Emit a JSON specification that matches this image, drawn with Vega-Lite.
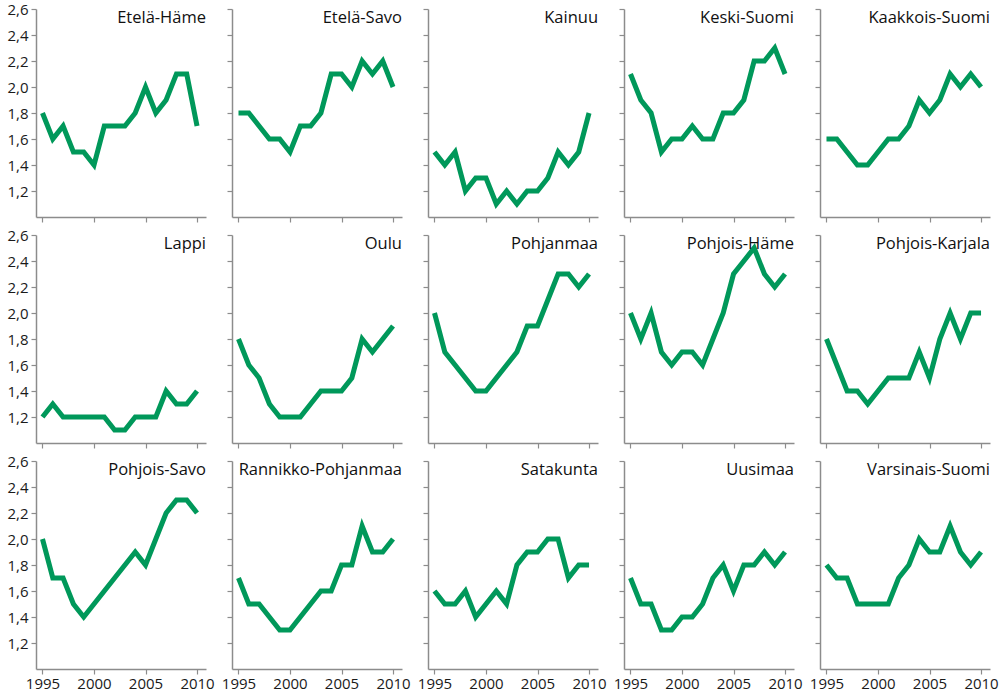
{
"$schema": "https://vega.github.io/schema/vega-lite/v6.json",
"padding": {"left": 6, "top": 2, "right": 0, "bottom": 0},
"background": "white",
"datasets": {"d": [
{"region":"Etelä-Häme","year":1995,"value":1.8},{"region":"Etelä-Häme","year":1996,"value":1.6},{"region":"Etelä-Häme","year":1997,"value":1.7},{"region":"Etelä-Häme","year":1998,"value":1.5},{"region":"Etelä-Häme","year":1999,"value":1.5},{"region":"Etelä-Häme","year":2000,"value":1.4},{"region":"Etelä-Häme","year":2001,"value":1.7},{"region":"Etelä-Häme","year":2002,"value":1.7},{"region":"Etelä-Häme","year":2003,"value":1.7},{"region":"Etelä-Häme","year":2004,"value":1.8},{"region":"Etelä-Häme","year":2005,"value":2.0},{"region":"Etelä-Häme","year":2006,"value":1.8},{"region":"Etelä-Häme","year":2007,"value":1.9},{"region":"Etelä-Häme","year":2008,"value":2.1},{"region":"Etelä-Häme","year":2009,"value":2.1},{"region":"Etelä-Häme","year":2010,"value":1.7},
{"region":"Etelä-Savo","year":1995,"value":1.8},{"region":"Etelä-Savo","year":1996,"value":1.8},{"region":"Etelä-Savo","year":1997,"value":1.7},{"region":"Etelä-Savo","year":1998,"value":1.6},{"region":"Etelä-Savo","year":1999,"value":1.6},{"region":"Etelä-Savo","year":2000,"value":1.5},{"region":"Etelä-Savo","year":2001,"value":1.7},{"region":"Etelä-Savo","year":2002,"value":1.7},{"region":"Etelä-Savo","year":2003,"value":1.8},{"region":"Etelä-Savo","year":2004,"value":2.1},{"region":"Etelä-Savo","year":2005,"value":2.1},{"region":"Etelä-Savo","year":2006,"value":2.0},{"region":"Etelä-Savo","year":2007,"value":2.2},{"region":"Etelä-Savo","year":2008,"value":2.1},{"region":"Etelä-Savo","year":2009,"value":2.2},{"region":"Etelä-Savo","year":2010,"value":2.0},
{"region":"Kainuu","year":1995,"value":1.5},{"region":"Kainuu","year":1996,"value":1.4},{"region":"Kainuu","year":1997,"value":1.5},{"region":"Kainuu","year":1998,"value":1.2},{"region":"Kainuu","year":1999,"value":1.3},{"region":"Kainuu","year":2000,"value":1.3},{"region":"Kainuu","year":2001,"value":1.1},{"region":"Kainuu","year":2002,"value":1.2},{"region":"Kainuu","year":2003,"value":1.1},{"region":"Kainuu","year":2004,"value":1.2},{"region":"Kainuu","year":2005,"value":1.2},{"region":"Kainuu","year":2006,"value":1.3},{"region":"Kainuu","year":2007,"value":1.5},{"region":"Kainuu","year":2008,"value":1.4},{"region":"Kainuu","year":2009,"value":1.5},{"region":"Kainuu","year":2010,"value":1.8},
{"region":"Keski-Suomi","year":1995,"value":2.1},{"region":"Keski-Suomi","year":1996,"value":1.9},{"region":"Keski-Suomi","year":1997,"value":1.8},{"region":"Keski-Suomi","year":1998,"value":1.5},{"region":"Keski-Suomi","year":1999,"value":1.6},{"region":"Keski-Suomi","year":2000,"value":1.6},{"region":"Keski-Suomi","year":2001,"value":1.7},{"region":"Keski-Suomi","year":2002,"value":1.6},{"region":"Keski-Suomi","year":2003,"value":1.6},{"region":"Keski-Suomi","year":2004,"value":1.8},{"region":"Keski-Suomi","year":2005,"value":1.8},{"region":"Keski-Suomi","year":2006,"value":1.9},{"region":"Keski-Suomi","year":2007,"value":2.2},{"region":"Keski-Suomi","year":2008,"value":2.2},{"region":"Keski-Suomi","year":2009,"value":2.3},{"region":"Keski-Suomi","year":2010,"value":2.1},
{"region":"Kaakkois-Suomi","year":1995,"value":1.6},{"region":"Kaakkois-Suomi","year":1996,"value":1.6},{"region":"Kaakkois-Suomi","year":1997,"value":1.5},{"region":"Kaakkois-Suomi","year":1998,"value":1.4},{"region":"Kaakkois-Suomi","year":1999,"value":1.4},{"region":"Kaakkois-Suomi","year":2000,"value":1.5},{"region":"Kaakkois-Suomi","year":2001,"value":1.6},{"region":"Kaakkois-Suomi","year":2002,"value":1.6},{"region":"Kaakkois-Suomi","year":2003,"value":1.7},{"region":"Kaakkois-Suomi","year":2004,"value":1.9},{"region":"Kaakkois-Suomi","year":2005,"value":1.8},{"region":"Kaakkois-Suomi","year":2006,"value":1.9},{"region":"Kaakkois-Suomi","year":2007,"value":2.1},{"region":"Kaakkois-Suomi","year":2008,"value":2.0},{"region":"Kaakkois-Suomi","year":2009,"value":2.1},{"region":"Kaakkois-Suomi","year":2010,"value":2.0},
{"region":"Lappi","year":1995,"value":1.2},{"region":"Lappi","year":1996,"value":1.3},{"region":"Lappi","year":1997,"value":1.2},{"region":"Lappi","year":1998,"value":1.2},{"region":"Lappi","year":1999,"value":1.2},{"region":"Lappi","year":2000,"value":1.2},{"region":"Lappi","year":2001,"value":1.2},{"region":"Lappi","year":2002,"value":1.1},{"region":"Lappi","year":2003,"value":1.1},{"region":"Lappi","year":2004,"value":1.2},{"region":"Lappi","year":2005,"value":1.2},{"region":"Lappi","year":2006,"value":1.2},{"region":"Lappi","year":2007,"value":1.4},{"region":"Lappi","year":2008,"value":1.3},{"region":"Lappi","year":2009,"value":1.3},{"region":"Lappi","year":2010,"value":1.4},
{"region":"Oulu","year":1995,"value":1.8},{"region":"Oulu","year":1996,"value":1.6},{"region":"Oulu","year":1997,"value":1.5},{"region":"Oulu","year":1998,"value":1.3},{"region":"Oulu","year":1999,"value":1.2},{"region":"Oulu","year":2000,"value":1.2},{"region":"Oulu","year":2001,"value":1.2},{"region":"Oulu","year":2002,"value":1.3},{"region":"Oulu","year":2003,"value":1.4},{"region":"Oulu","year":2004,"value":1.4},{"region":"Oulu","year":2005,"value":1.4},{"region":"Oulu","year":2006,"value":1.5},{"region":"Oulu","year":2007,"value":1.8},{"region":"Oulu","year":2008,"value":1.7},{"region":"Oulu","year":2009,"value":1.8},{"region":"Oulu","year":2010,"value":1.9},
{"region":"Pohjanmaa","year":1995,"value":2.0},{"region":"Pohjanmaa","year":1996,"value":1.7},{"region":"Pohjanmaa","year":1997,"value":1.6},{"region":"Pohjanmaa","year":1998,"value":1.5},{"region":"Pohjanmaa","year":1999,"value":1.4},{"region":"Pohjanmaa","year":2000,"value":1.4},{"region":"Pohjanmaa","year":2001,"value":1.5},{"region":"Pohjanmaa","year":2002,"value":1.6},{"region":"Pohjanmaa","year":2003,"value":1.7},{"region":"Pohjanmaa","year":2004,"value":1.9},{"region":"Pohjanmaa","year":2005,"value":1.9},{"region":"Pohjanmaa","year":2006,"value":2.1},{"region":"Pohjanmaa","year":2007,"value":2.3},{"region":"Pohjanmaa","year":2008,"value":2.3},{"region":"Pohjanmaa","year":2009,"value":2.2},{"region":"Pohjanmaa","year":2010,"value":2.3},
{"region":"Pohjois-Häme","year":1995,"value":2.0},{"region":"Pohjois-Häme","year":1996,"value":1.8},{"region":"Pohjois-Häme","year":1997,"value":2.0},{"region":"Pohjois-Häme","year":1998,"value":1.7},{"region":"Pohjois-Häme","year":1999,"value":1.6},{"region":"Pohjois-Häme","year":2000,"value":1.7},{"region":"Pohjois-Häme","year":2001,"value":1.7},{"region":"Pohjois-Häme","year":2002,"value":1.6},{"region":"Pohjois-Häme","year":2003,"value":1.8},{"region":"Pohjois-Häme","year":2004,"value":2.0},{"region":"Pohjois-Häme","year":2005,"value":2.3},{"region":"Pohjois-Häme","year":2006,"value":2.4},{"region":"Pohjois-Häme","year":2007,"value":2.5},{"region":"Pohjois-Häme","year":2008,"value":2.3},{"region":"Pohjois-Häme","year":2009,"value":2.2},{"region":"Pohjois-Häme","year":2010,"value":2.3},
{"region":"Pohjois-Karjala","year":1995,"value":1.8},{"region":"Pohjois-Karjala","year":1996,"value":1.6},{"region":"Pohjois-Karjala","year":1997,"value":1.4},{"region":"Pohjois-Karjala","year":1998,"value":1.4},{"region":"Pohjois-Karjala","year":1999,"value":1.3},{"region":"Pohjois-Karjala","year":2000,"value":1.4},{"region":"Pohjois-Karjala","year":2001,"value":1.5},{"region":"Pohjois-Karjala","year":2002,"value":1.5},{"region":"Pohjois-Karjala","year":2003,"value":1.5},{"region":"Pohjois-Karjala","year":2004,"value":1.7},{"region":"Pohjois-Karjala","year":2005,"value":1.5},{"region":"Pohjois-Karjala","year":2006,"value":1.8},{"region":"Pohjois-Karjala","year":2007,"value":2.0},{"region":"Pohjois-Karjala","year":2008,"value":1.8},{"region":"Pohjois-Karjala","year":2009,"value":2.0},{"region":"Pohjois-Karjala","year":2010,"value":2.0},
{"region":"Pohjois-Savo","year":1995,"value":2.0},{"region":"Pohjois-Savo","year":1996,"value":1.7},{"region":"Pohjois-Savo","year":1997,"value":1.7},{"region":"Pohjois-Savo","year":1998,"value":1.5},{"region":"Pohjois-Savo","year":1999,"value":1.4},{"region":"Pohjois-Savo","year":2000,"value":1.5},{"region":"Pohjois-Savo","year":2001,"value":1.6},{"region":"Pohjois-Savo","year":2002,"value":1.7},{"region":"Pohjois-Savo","year":2003,"value":1.8},{"region":"Pohjois-Savo","year":2004,"value":1.9},{"region":"Pohjois-Savo","year":2005,"value":1.8},{"region":"Pohjois-Savo","year":2006,"value":2.0},{"region":"Pohjois-Savo","year":2007,"value":2.2},{"region":"Pohjois-Savo","year":2008,"value":2.3},{"region":"Pohjois-Savo","year":2009,"value":2.3},{"region":"Pohjois-Savo","year":2010,"value":2.2},
{"region":"Rannikko-Pohjanmaa","year":1995,"value":1.7},{"region":"Rannikko-Pohjanmaa","year":1996,"value":1.5},{"region":"Rannikko-Pohjanmaa","year":1997,"value":1.5},{"region":"Rannikko-Pohjanmaa","year":1998,"value":1.4},{"region":"Rannikko-Pohjanmaa","year":1999,"value":1.3},{"region":"Rannikko-Pohjanmaa","year":2000,"value":1.3},{"region":"Rannikko-Pohjanmaa","year":2001,"value":1.4},{"region":"Rannikko-Pohjanmaa","year":2002,"value":1.5},{"region":"Rannikko-Pohjanmaa","year":2003,"value":1.6},{"region":"Rannikko-Pohjanmaa","year":2004,"value":1.6},{"region":"Rannikko-Pohjanmaa","year":2005,"value":1.8},{"region":"Rannikko-Pohjanmaa","year":2006,"value":1.8},{"region":"Rannikko-Pohjanmaa","year":2007,"value":2.1},{"region":"Rannikko-Pohjanmaa","year":2008,"value":1.9},{"region":"Rannikko-Pohjanmaa","year":2009,"value":1.9},{"region":"Rannikko-Pohjanmaa","year":2010,"value":2.0},
{"region":"Satakunta","year":1995,"value":1.6},{"region":"Satakunta","year":1996,"value":1.5},{"region":"Satakunta","year":1997,"value":1.5},{"region":"Satakunta","year":1998,"value":1.6},{"region":"Satakunta","year":1999,"value":1.4},{"region":"Satakunta","year":2000,"value":1.5},{"region":"Satakunta","year":2001,"value":1.6},{"region":"Satakunta","year":2002,"value":1.5},{"region":"Satakunta","year":2003,"value":1.8},{"region":"Satakunta","year":2004,"value":1.9},{"region":"Satakunta","year":2005,"value":1.9},{"region":"Satakunta","year":2006,"value":2.0},{"region":"Satakunta","year":2007,"value":2.0},{"region":"Satakunta","year":2008,"value":1.7},{"region":"Satakunta","year":2009,"value":1.8},{"region":"Satakunta","year":2010,"value":1.8},
{"region":"Uusimaa","year":1995,"value":1.7},{"region":"Uusimaa","year":1996,"value":1.5},{"region":"Uusimaa","year":1997,"value":1.5},{"region":"Uusimaa","year":1998,"value":1.3},{"region":"Uusimaa","year":1999,"value":1.3},{"region":"Uusimaa","year":2000,"value":1.4},{"region":"Uusimaa","year":2001,"value":1.4},{"region":"Uusimaa","year":2002,"value":1.5},{"region":"Uusimaa","year":2003,"value":1.7},{"region":"Uusimaa","year":2004,"value":1.8},{"region":"Uusimaa","year":2005,"value":1.6},{"region":"Uusimaa","year":2006,"value":1.8},{"region":"Uusimaa","year":2007,"value":1.8},{"region":"Uusimaa","year":2008,"value":1.9},{"region":"Uusimaa","year":2009,"value":1.8},{"region":"Uusimaa","year":2010,"value":1.9},
{"region":"Varsinais-Suomi","year":1995,"value":1.8},{"region":"Varsinais-Suomi","year":1996,"value":1.7},{"region":"Varsinais-Suomi","year":1997,"value":1.7},{"region":"Varsinais-Suomi","year":1998,"value":1.5},{"region":"Varsinais-Suomi","year":1999,"value":1.5},{"region":"Varsinais-Suomi","year":2000,"value":1.5},{"region":"Varsinais-Suomi","year":2001,"value":1.5},{"region":"Varsinais-Suomi","year":2002,"value":1.7},{"region":"Varsinais-Suomi","year":2003,"value":1.8},{"region":"Varsinais-Suomi","year":2004,"value":2.0},{"region":"Varsinais-Suomi","year":2005,"value":1.9},{"region":"Varsinais-Suomi","year":2006,"value":1.9},{"region":"Varsinais-Suomi","year":2007,"value":2.1},{"region":"Varsinais-Suomi","year":2008,"value":1.9},{"region":"Varsinais-Suomi","year":2009,"value":1.8},{"region":"Varsinais-Suomi","year":2010,"value":1.9}
]},
"data": {"name": "d"},
"config": {
  "view": {"stroke": null},
  "font": "Open Sans",
  "axis": {"grid": false, "domainColor": "#8c8c8c", "domainWidth": 1.5, "tickColor": "#8c8c8c", "tickWidth": 1.2, "tickSize": 5, "labelFont": "Open Sans", "labelFontSize": 15, "labelColor": "#1a1a1a", "labelFlush": false, "labelOverlap": false, "title": null, "tickCount": 20},
  "axisX": {"labelPadding": 2},
  "axisY": {"labelPadding": 3},
  "line": {"color": "#00985a", "strokeWidth": 5, "strokeCap": "butt", "strokeJoin": "miter"},
  "text": {"font": "Open Sans", "fontSize": 16.5, "color": "#111111"}
},
"columns": 5,
"spacing": {"row": 18, "column": 26},
"bounds": "flush",
"concat": [
  {"width":170,"height":208,"transform":[{"filter":{"field":"region","equal":"Etelä-Häme"}}],"layer":[
   {"mark":"line","encoding":{"x":{"field":"year","type":"quantitative","scale":{"domain":[1994.37,2010.87],"nice":false,"zero":false},"axis":{"values":[1995,2000,2005,2010],"tickCount":20,"format":"d","labels":false}},"y":{"field":"value","type":"quantitative","scale":{"domain":[1.0,2.6],"nice":false,"zero":false},"axis":{"values":[1.2,1.4,1.6,1.8,2.0,2.2,2.4,2.6],"tickCount":20,"labelExpr":"replace(format(datum.value,'.1f'),'.',',')"}}}},
   {"transform":[{"filter":"datum.year===2010"}],"mark":{"type":"text","align":"right","baseline":"top","dy":1},"encoding":{"x":{"datum":2010.87,"type":"quantitative"},"y":{"datum":2.6,"type":"quantitative"},"text":{"field":"region"}}}]},
  {"width":170,"height":208,"transform":[{"filter":{"field":"region","equal":"Etelä-Savo"}}],"layer":[
   {"mark":"line","encoding":{"x":{"field":"year","type":"quantitative","scale":{"domain":[1994.37,2010.87],"nice":false,"zero":false},"axis":{"values":[1995,2000,2005,2010],"tickCount":20,"format":"d","labels":false}},"y":{"field":"value","type":"quantitative","scale":{"domain":[1.0,2.6],"nice":false,"zero":false},"axis":{"values":[1.2,1.4,1.6,1.8,2.0,2.2,2.4,2.6],"tickCount":20,"labels":false}}}},
   {"transform":[{"filter":"datum.year===2010"}],"mark":{"type":"text","align":"right","baseline":"top","dy":1},"encoding":{"x":{"datum":2010.87,"type":"quantitative"},"y":{"datum":2.6,"type":"quantitative"},"text":{"field":"region"}}}]},
  {"width":170,"height":208,"transform":[{"filter":{"field":"region","equal":"Kainuu"}}],"layer":[
   {"mark":"line","encoding":{"x":{"field":"year","type":"quantitative","scale":{"domain":[1994.37,2010.87],"nice":false,"zero":false},"axis":{"values":[1995,2000,2005,2010],"tickCount":20,"format":"d","labels":false}},"y":{"field":"value","type":"quantitative","scale":{"domain":[1.0,2.6],"nice":false,"zero":false},"axis":{"values":[1.2,1.4,1.6,1.8,2.0,2.2,2.4,2.6],"tickCount":20,"labels":false}}}},
   {"transform":[{"filter":"datum.year===2010"}],"mark":{"type":"text","align":"right","baseline":"top","dy":1},"encoding":{"x":{"datum":2010.87,"type":"quantitative"},"y":{"datum":2.6,"type":"quantitative"},"text":{"field":"region"}}}]},
  {"width":170,"height":208,"transform":[{"filter":{"field":"region","equal":"Keski-Suomi"}}],"layer":[
   {"mark":"line","encoding":{"x":{"field":"year","type":"quantitative","scale":{"domain":[1994.37,2010.87],"nice":false,"zero":false},"axis":{"values":[1995,2000,2005,2010],"tickCount":20,"format":"d","labels":false}},"y":{"field":"value","type":"quantitative","scale":{"domain":[1.0,2.6],"nice":false,"zero":false},"axis":{"values":[1.2,1.4,1.6,1.8,2.0,2.2,2.4,2.6],"tickCount":20,"labels":false}}}},
   {"transform":[{"filter":"datum.year===2010"}],"mark":{"type":"text","align":"right","baseline":"top","dy":1},"encoding":{"x":{"datum":2010.87,"type":"quantitative"},"y":{"datum":2.6,"type":"quantitative"},"text":{"field":"region"}}}]},
  {"width":170,"height":208,"transform":[{"filter":{"field":"region","equal":"Kaakkois-Suomi"}}],"layer":[
   {"mark":"line","encoding":{"x":{"field":"year","type":"quantitative","scale":{"domain":[1994.37,2010.87],"nice":false,"zero":false},"axis":{"values":[1995,2000,2005,2010],"tickCount":20,"format":"d","labels":false}},"y":{"field":"value","type":"quantitative","scale":{"domain":[1.0,2.6],"nice":false,"zero":false},"axis":{"values":[1.2,1.4,1.6,1.8,2.0,2.2,2.4,2.6],"tickCount":20,"labels":false}}}},
   {"transform":[{"filter":"datum.year===2010"}],"mark":{"type":"text","align":"right","baseline":"top","dy":1},"encoding":{"x":{"datum":2010.87,"type":"quantitative"},"y":{"datum":2.6,"type":"quantitative"},"text":{"field":"region"}}}]},
  {"width":170,"height":208,"transform":[{"filter":{"field":"region","equal":"Lappi"}}],"layer":[
   {"mark":"line","encoding":{"x":{"field":"year","type":"quantitative","scale":{"domain":[1994.37,2010.87],"nice":false,"zero":false},"axis":{"values":[1995,2000,2005,2010],"tickCount":20,"format":"d","labels":false}},"y":{"field":"value","type":"quantitative","scale":{"domain":[1.0,2.6],"nice":false,"zero":false},"axis":{"values":[1.2,1.4,1.6,1.8,2.0,2.2,2.4,2.6],"tickCount":20,"labelExpr":"replace(format(datum.value,'.1f'),'.',',')"}}}},
   {"transform":[{"filter":"datum.year===2010"}],"mark":{"type":"text","align":"right","baseline":"top","dy":1},"encoding":{"x":{"datum":2010.87,"type":"quantitative"},"y":{"datum":2.6,"type":"quantitative"},"text":{"field":"region"}}}]},
  {"width":170,"height":208,"transform":[{"filter":{"field":"region","equal":"Oulu"}}],"layer":[
   {"mark":"line","encoding":{"x":{"field":"year","type":"quantitative","scale":{"domain":[1994.37,2010.87],"nice":false,"zero":false},"axis":{"values":[1995,2000,2005,2010],"tickCount":20,"format":"d","labels":false}},"y":{"field":"value","type":"quantitative","scale":{"domain":[1.0,2.6],"nice":false,"zero":false},"axis":{"values":[1.2,1.4,1.6,1.8,2.0,2.2,2.4,2.6],"tickCount":20,"labels":false}}}},
   {"transform":[{"filter":"datum.year===2010"}],"mark":{"type":"text","align":"right","baseline":"top","dy":1},"encoding":{"x":{"datum":2010.87,"type":"quantitative"},"y":{"datum":2.6,"type":"quantitative"},"text":{"field":"region"}}}]},
  {"width":170,"height":208,"transform":[{"filter":{"field":"region","equal":"Pohjanmaa"}}],"layer":[
   {"mark":"line","encoding":{"x":{"field":"year","type":"quantitative","scale":{"domain":[1994.37,2010.87],"nice":false,"zero":false},"axis":{"values":[1995,2000,2005,2010],"tickCount":20,"format":"d","labels":false}},"y":{"field":"value","type":"quantitative","scale":{"domain":[1.0,2.6],"nice":false,"zero":false},"axis":{"values":[1.2,1.4,1.6,1.8,2.0,2.2,2.4,2.6],"tickCount":20,"labels":false}}}},
   {"transform":[{"filter":"datum.year===2010"}],"mark":{"type":"text","align":"right","baseline":"top","dy":1},"encoding":{"x":{"datum":2010.87,"type":"quantitative"},"y":{"datum":2.6,"type":"quantitative"},"text":{"field":"region"}}}]},
  {"width":170,"height":208,"transform":[{"filter":{"field":"region","equal":"Pohjois-Häme"}}],"layer":[
   {"mark":"line","encoding":{"x":{"field":"year","type":"quantitative","scale":{"domain":[1994.37,2010.87],"nice":false,"zero":false},"axis":{"values":[1995,2000,2005,2010],"tickCount":20,"format":"d","labels":false}},"y":{"field":"value","type":"quantitative","scale":{"domain":[1.0,2.6],"nice":false,"zero":false},"axis":{"values":[1.2,1.4,1.6,1.8,2.0,2.2,2.4,2.6],"tickCount":20,"labels":false}}}},
   {"transform":[{"filter":"datum.year===2010"}],"mark":{"type":"text","align":"right","baseline":"top","dy":1},"encoding":{"x":{"datum":2010.87,"type":"quantitative"},"y":{"datum":2.6,"type":"quantitative"},"text":{"field":"region"}}}]},
  {"width":170,"height":208,"transform":[{"filter":{"field":"region","equal":"Pohjois-Karjala"}}],"layer":[
   {"mark":"line","encoding":{"x":{"field":"year","type":"quantitative","scale":{"domain":[1994.37,2010.87],"nice":false,"zero":false},"axis":{"values":[1995,2000,2005,2010],"tickCount":20,"format":"d","labels":false}},"y":{"field":"value","type":"quantitative","scale":{"domain":[1.0,2.6],"nice":false,"zero":false},"axis":{"values":[1.2,1.4,1.6,1.8,2.0,2.2,2.4,2.6],"tickCount":20,"labels":false}}}},
   {"transform":[{"filter":"datum.year===2010"}],"mark":{"type":"text","align":"right","baseline":"top","dy":1},"encoding":{"x":{"datum":2010.87,"type":"quantitative"},"y":{"datum":2.6,"type":"quantitative"},"text":{"field":"region"}}}]},
  {"width":170,"height":208,"transform":[{"filter":{"field":"region","equal":"Pohjois-Savo"}}],"layer":[
   {"mark":"line","encoding":{"x":{"field":"year","type":"quantitative","scale":{"domain":[1994.37,2010.87],"nice":false,"zero":false},"axis":{"values":[1995,2000,2005,2010],"tickCount":20,"format":"d"}},"y":{"field":"value","type":"quantitative","scale":{"domain":[1.0,2.6],"nice":false,"zero":false},"axis":{"values":[1.2,1.4,1.6,1.8,2.0,2.2,2.4,2.6],"tickCount":20,"labelExpr":"replace(format(datum.value,'.1f'),'.',',')"}}}},
   {"transform":[{"filter":"datum.year===2010"}],"mark":{"type":"text","align":"right","baseline":"top","dy":1},"encoding":{"x":{"datum":2010.87,"type":"quantitative"},"y":{"datum":2.6,"type":"quantitative"},"text":{"field":"region"}}}]},
  {"width":170,"height":208,"transform":[{"filter":{"field":"region","equal":"Rannikko-Pohjanmaa"}}],"layer":[
   {"mark":"line","encoding":{"x":{"field":"year","type":"quantitative","scale":{"domain":[1994.37,2010.87],"nice":false,"zero":false},"axis":{"values":[1995,2000,2005,2010],"tickCount":20,"format":"d"}},"y":{"field":"value","type":"quantitative","scale":{"domain":[1.0,2.6],"nice":false,"zero":false},"axis":{"values":[1.2,1.4,1.6,1.8,2.0,2.2,2.4,2.6],"tickCount":20,"labels":false}}}},
   {"transform":[{"filter":"datum.year===2010"}],"mark":{"type":"text","align":"right","baseline":"top","dy":1},"encoding":{"x":{"datum":2010.87,"type":"quantitative"},"y":{"datum":2.6,"type":"quantitative"},"text":{"field":"region"}}}]},
  {"width":170,"height":208,"transform":[{"filter":{"field":"region","equal":"Satakunta"}}],"layer":[
   {"mark":"line","encoding":{"x":{"field":"year","type":"quantitative","scale":{"domain":[1994.37,2010.87],"nice":false,"zero":false},"axis":{"values":[1995,2000,2005,2010],"tickCount":20,"format":"d"}},"y":{"field":"value","type":"quantitative","scale":{"domain":[1.0,2.6],"nice":false,"zero":false},"axis":{"values":[1.2,1.4,1.6,1.8,2.0,2.2,2.4,2.6],"tickCount":20,"labels":false}}}},
   {"transform":[{"filter":"datum.year===2010"}],"mark":{"type":"text","align":"right","baseline":"top","dy":1},"encoding":{"x":{"datum":2010.87,"type":"quantitative"},"y":{"datum":2.6,"type":"quantitative"},"text":{"field":"region"}}}]},
  {"width":170,"height":208,"transform":[{"filter":{"field":"region","equal":"Uusimaa"}}],"layer":[
   {"mark":"line","encoding":{"x":{"field":"year","type":"quantitative","scale":{"domain":[1994.37,2010.87],"nice":false,"zero":false},"axis":{"values":[1995,2000,2005,2010],"tickCount":20,"format":"d"}},"y":{"field":"value","type":"quantitative","scale":{"domain":[1.0,2.6],"nice":false,"zero":false},"axis":{"values":[1.2,1.4,1.6,1.8,2.0,2.2,2.4,2.6],"tickCount":20,"labels":false}}}},
   {"transform":[{"filter":"datum.year===2010"}],"mark":{"type":"text","align":"right","baseline":"top","dy":1},"encoding":{"x":{"datum":2010.87,"type":"quantitative"},"y":{"datum":2.6,"type":"quantitative"},"text":{"field":"region"}}}]},
  {"width":170,"height":208,"transform":[{"filter":{"field":"region","equal":"Varsinais-Suomi"}}],"layer":[
   {"mark":"line","encoding":{"x":{"field":"year","type":"quantitative","scale":{"domain":[1994.37,2010.87],"nice":false,"zero":false},"axis":{"values":[1995,2000,2005,2010],"tickCount":20,"format":"d"}},"y":{"field":"value","type":"quantitative","scale":{"domain":[1.0,2.6],"nice":false,"zero":false},"axis":{"values":[1.2,1.4,1.6,1.8,2.0,2.2,2.4,2.6],"tickCount":20,"labels":false}}}},
   {"transform":[{"filter":"datum.year===2010"}],"mark":{"type":"text","align":"right","baseline":"top","dy":1},"encoding":{"x":{"datum":2010.87,"type":"quantitative"},"y":{"datum":2.6,"type":"quantitative"},"text":{"field":"region"}}}]}
]
}
